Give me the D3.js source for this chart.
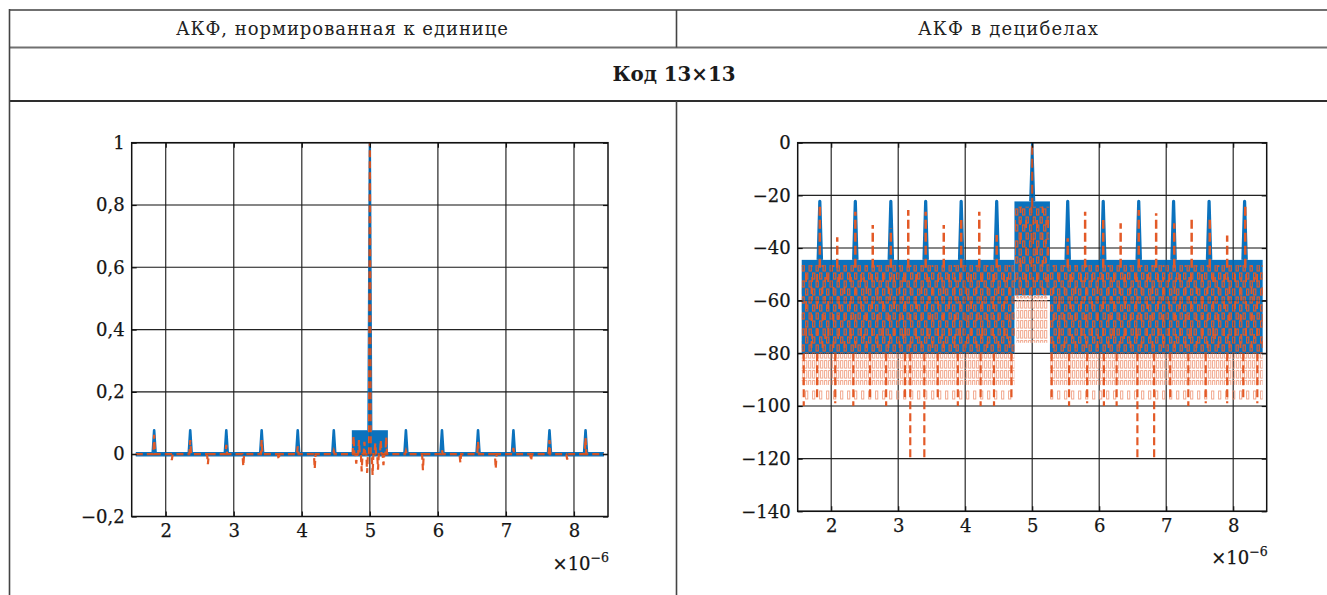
<!DOCTYPE html>
<html>
<head>
<meta charset="utf-8">
<script src="https://cdn.jsdelivr.net/npm/d3@7"></script>
<style>
  html, body { margin: 0; padding: 0; background: #fff; }
  svg { display: block; font-family: "DejaVu Serif", serif; }
</style>
</head>
<body>
<svg id="fig" width="1327" height="595"></svg>
<script>
// ---------------- data ----------------
const headerTexts = ["АКФ, нормированная к единице", "АКФ в децибелах"];
const codeTitle = "Код 13×13";

const xTicks = [2, 3, 4, 5, 6, 7, 8];
const linTicks = [-0.2, 0, 0.2, 0.4, 0.6, 0.8, 1];
const dbTicks = [-140, -120, -100, -80, -60, -40, -20, 0];

// lag axis, ×1e-6 s
const lagSpan = [1.56, 8.44];
const innerBlock = [4.735, 5.265];
const mainLag = 5;
const outerLobeX = [1.83, 2.36, 2.89, 3.41, 3.94, 4.47, 5.53, 6.06, 6.59, 7.11, 7.64, 8.17];

// |ACF|, normalized
const linPeak = 1;
const linLobe = 0.077;

// real part: excursions at outer lobes and between them
const reX = [1.83, 2.09, 2.36, 2.62, 2.89, 3.14, 3.41, 3.66, 3.94, 4.19, 4.47,
             5.53, 5.78, 6.06, 6.33, 6.59, 6.85, 7.11, 7.37, 7.64, 7.90, 8.17];
const reV = [0.062, -0.019, 0.045, -0.032, 0.030, -0.038, 0.045, -0.017, 0.025, -0.046, 0.010,
             0.010, -0.051, 0.013, -0.027, 0.040, -0.046, 0.020, -0.021, 0.045, -0.017, 0.052];
// real part inside the inner block
const reInnerX = [4.76, 4.80, 4.84, 4.88, 4.92, 4.96, 5.04, 5.08, 5.12, 5.16, 5.20, 5.24];
const reInnerV = [0.058, -0.030, 0.045, -0.055, 0.040, -0.060, -0.067, 0.035, -0.050, 0.045, -0.035, 0.055];

// |ACF| in dB
const dbPeak = 0;
const dbLobe = -22.3;
const dbFloor = [-44.5, -80];
const dbInnerFloor = -58;

// real part in dB: upper ends of the lobes
const reDbTopX = [1.83, 2.09, 2.36, 2.62, 2.89, 3.15, 3.41, 3.68, 3.94, 4.21, 4.47,
                  5.53, 5.79, 6.06, 6.32, 6.59, 6.85, 7.12, 7.38, 7.65, 7.91, 8.18];
const reDbTopV = [-24.3, -35.9, -26.2, -31.3, -32.5, -25.6, -26.2, -31.3, -29.4, -26.2, -35.1,
                  -36.3, -26.2, -29.4, -30.6, -25.6, -26.8, -30.6, -29.1, -28.5, -35.2, -23.8];
// real part in dB: lower ends of the deepest nulls
const reDbDeepX = [1.59, 1.79, 2.06, 2.33, 2.58, 2.82, 3.10, 3.18, 3.39, 3.59, 3.89, 4.23, 4.43, 4.69,
                   5.29, 5.55, 5.82, 6.07, 6.26, 6.57, 6.82, 7.06, 7.33, 7.59, 7.91, 8.15, 8.36];
const reDbDeepV = [-100, -97, -99, -100, -98, -100, -98, -120.5, -120, -98, -100, -100, -100, -97,
                   -98, -100, -99, -100, -100, -121, -121, -97, -100, -99, -99, -97, -99];
const reDbFringe = [-80, -92];
const reDbFringeSparse = [-92, -99];
const reDbInnerFringe = [-58.5, -76];

// ---------------- drawing ----------------
const BLUE = "#0B72BD", ORANGE = "#E35A27", FRINGE = "#F0A084";
const svg = d3.select("#fig");
const defs = svg.append("defs");

function pattern(id, w, h, rects, color, sw, filled) {
  const p = defs.append("pattern").attr("id", id).attr("patternUnits", "userSpaceOnUse")
    .attr("width", w).attr("height", h);
  rects.forEach(r => {
    const e = p.append("rect").attr("x", r[0]).attr("y", r[1]).attr("width", r[2]).attr("height", r[3]);
    if (filled) e.attr("fill", color);
    else e.attr("fill", "none").attr("stroke", color).attr("stroke-width", sw);
  });
}
// dash textures of the real-part trace over dense regions
pattern("texA", 7, 16, [[0.6, 1, 2.2, 6], [4.1, 9, 2.2, 6]], ORANGE, 1.2, false);
pattern("texB", 11, 27, [[2.2, 4, 1.8, 8], [7.6, 17, 1.8, 7]], ORANGE, 0, true);
pattern("texE", 13, 19, [[5.3, 11, 1.6, 5]], ORANGE, 0, true);
pattern("texC", 4, 10, [[0.6, 0.6, 2.2, 7.5]], FRINGE, 0.9, false);
pattern("texD", 7, 15, [[0.6, 1, 2.2, 8]], FRINGE, 0.9, false);

// ---- table frame ----
const frame = svg.append("g");
frame.append("line").attr("x1", 9).attr("x2", 1327).attr("y1", 10).attr("y2", 10)
  .attr("stroke", "#707070").attr("stroke-width", 2);
frame.append("line").attr("x1", 9).attr("x2", 1327).attr("y1", 47.5).attr("y2", 47.5)
  .attr("stroke", "#707070").attr("stroke-width", 2);
frame.append("line").attr("x1", 9).attr("x2", 1327).attr("y1", 101).attr("y2", 101)
  .attr("stroke", "#2e2e2e").attr("stroke-width", 2);
frame.append("line").attr("x1", 9.5).attr("x2", 9.5).attr("y1", 9).attr("y2", 595)
  .attr("stroke", "#444").attr("stroke-width", 1.6);
frame.append("line").attr("x1", 676.5).attr("x2", 676.5).attr("y1", 10).attr("y2", 47.5)
  .attr("stroke", "#444").attr("stroke-width", 1.6);
frame.append("line").attr("x1", 676.5).attr("x2", 676.5).attr("y1", 101).attr("y2", 595)
  .attr("stroke", "#444").attr("stroke-width", 1.6);

frame.append("text").attr("x", 342).attr("y", 35).attr("text-anchor", "middle")
  .attr("font-size", 18).attr("fill", "#222").attr("textLength", 332).attr("lengthAdjust", "spacing")
  .text(headerTexts[0]);
frame.append("text").attr("x", 1008).attr("y", 35).attr("text-anchor", "middle")
  .attr("font-size", 18).attr("fill", "#222").attr("textLength", 180).attr("lengthAdjust", "spacing")
  .text(headerTexts[1]);
frame.append("text").attr("x", 674).attr("y", 81).attr("text-anchor", "middle")
  .attr("font-size", 20).attr("font-weight", "bold").attr("fill", "#1a1a1a")
  .attr("textLength", 123).attr("lengthAdjust", "spacingAndGlyphs")
  .text(codeTitle);

// ---- helpers ----
const fmtLin = d => d === 0 ? "0" : (d < 0 ? "\u2212" : "") + String(Math.abs(d)).replace(".", ",");
const fmtDb = d => d === 0 ? "0" : "\u2212" + Math.abs(d);

function lobePoints(xs, vs, base, hw) {
  const pts = [];
  xs.forEach((x, i) => {
    const v = Array.isArray(vs) ? vs[i] : vs;
    pts.push([x - hw, base], [x, v], [x + hw, base]);
  });
  return pts;
}

function setupAxes(g, x, y, yTickVals, id) {
  const [x0, x1] = x.range();
  const [y0, y1] = y.range(); // y0 bottom, y1 top
  defs.append("clipPath").attr("id", id).append("rect")
    .attr("x", x0).attr("y", y1).attr("width", x1 - x0).attr("height", y0 - y1);
  const grid = g.append("g").attr("stroke", "#2a2a2a").attr("stroke-width", 1.1);
  grid.selectAll(".gx").data(xTicks).join("line")
    .attr("x1", d => x(d)).attr("x2", d => x(d)).attr("y1", y1).attr("y2", y0);
  grid.selectAll(".gy").data(yTickVals).join("line")
    .attr("x1", x0).attr("x2", x1).attr("y1", d => y(d)).attr("y2", d => y(d));
  return { x0, x1, y0, y1 };
}

function finishAxes(g, x, y, yFmt, yTickVals, box) {
  const { x0, x1, y0, y1 } = box;
  const grid = g.append("g").attr("stroke", "#000").attr("stroke-opacity", 0.18).attr("stroke-width", 1);
  grid.selectAll(".gx").data(xTicks).join("line")
    .attr("x1", d => x(d)).attr("x2", d => x(d)).attr("y1", y1).attr("y2", y0);
  grid.selectAll(".gy").data(yTickVals).join("line")
    .attr("x1", x0).attr("x2", x1).attr("y1", d => y(d)).attr("y2", d => y(d));

  const ax = g.append("g").attr("transform", `translate(0,${y0})`)
    .call(d3.axisBottom(x).tickValues(xTicks).tickSizeInner(-5).tickSizeOuter(0).tickPadding(8)
      .tickFormat(d3.format("d")));
  const at = g.append("g").attr("transform", `translate(0,${y1})`)
    .call(d3.axisTop(x).tickValues(xTicks).tickSizeInner(-5).tickSizeOuter(0).tickFormat(""));
  const ay = g.append("g").attr("transform", `translate(${x0},0)`)
    .call(d3.axisLeft(y).tickValues(yTickVals).tickSizeInner(-5).tickSizeOuter(0).tickPadding(7)
      .tickFormat(yFmt));
  const ar = g.append("g").attr("transform", `translate(${x1},0)`)
    .call(d3.axisRight(y).tickValues(yTickVals).tickSizeInner(-5).tickSizeOuter(0).tickFormat(""));
  [ax, at, ay, ar].forEach(a => {
    a.select(".domain").remove();
    a.selectAll(".tick line").attr("stroke", "#111").attr("stroke-width", 1.2);
    a.selectAll("text").attr("font-family", "DejaVu Serif, serif").attr("font-size", 18)
      .attr("fill", "#151515").attr("stroke", "#151515").attr("stroke-width", 0.25);
  });
  g.append("rect").attr("x", x0).attr("y", y1).attr("width", x1 - x0).attr("height", y0 - y1)
    .attr("fill", "none").attr("stroke", "#111").attr("stroke-width", 1.5);

  const mult = g.append("text").attr("x", x1 + 1).attr("y", y0 + 53).attr("text-anchor", "end")
    .attr("font-size", 18).attr("fill", "#151515").attr("stroke", "#151515").attr("stroke-width", 0.25);
  mult.append("tspan").text("×10");
  mult.append("tspan").attr("font-size", 12.5).attr("dy", -8).text("\u22126");
}

const line = d3.line();

// ================= left: normalized ACF =================
{
  const x = d3.scaleLinear().domain([1.5, 8.5]).range([131.7, 608]);
  const y = d3.scaleLinear().domain([-0.2, 1]).range([516.5, 142.7]);
  const g = svg.append("g");
  const box = setupAxes(g, x, y, linTicks, "clipL");
  const data = g.append("g").attr("clip-path", "url(#clipL)");
  const xy = p => [x(p[0]), y(p[1])];

  // |ACF|: baseline with outer lobes
  const bluePts = [[lagSpan[0], 0], ...lobePoints(outerLobeX, linLobe, 0, 0.022), [lagSpan[1], 0]];
  data.append("path").attr("d", line(bluePts.map(xy)))
    .attr("fill", BLUE).attr("stroke", BLUE).attr("stroke-width", 2.6)
    .attr("stroke-linejoin", "round");
  data.append("line").attr("x1", x(lagSpan[0])).attr("x2", x(lagSpan[1]))
    .attr("y1", y(0)).attr("y2", y(0)).attr("stroke", BLUE).attr("stroke-width", 4.5);
  // inner block
  data.append("rect").attr("x", x(innerBlock[0])).attr("y", y(linLobe))
    .attr("width", x(innerBlock[1]) - x(innerBlock[0])).attr("height", y(0) - y(linLobe))
    .attr("fill", BLUE);
  // main peak
  data.append("path")
    .attr("d", line([[mainLag - 0.02, linLobe], [mainLag, linPeak], [mainLag + 0.02, linLobe]].map(xy)))
    .attr("fill", BLUE).attr("stroke", BLUE).attr("stroke-width", 2.4);

  // real part, dashed
  const allX = reX.concat(reInnerX, [mainLag]);
  const allV = reV.concat(reInnerV, [linPeak]);
  const order = d3.range(allX.length).sort((a, b) => allX[a] - allX[b]);
  const rePts = [[lagSpan[0], 0], ...lobePoints(order.map(i => allX[i]), order.map(i => allV[i]), 0, 0.012),
                 [lagSpan[1], 0]];
  data.append("path").attr("d", line(rePts.map(xy)))
    .attr("fill", "none").attr("stroke", ORANGE).attr("stroke-width", 2.2)
    .attr("stroke-dasharray", "7,4").attr("stroke-linejoin", "miter");

  finishAxes(g, x, y, fmtLin, linTicks, box);
}

// ================= right: ACF in dB =================
{
  const x = d3.scaleLinear().domain([1.5, 8.5]).range([797.7, 1266.7]);
  const y = d3.scaleLinear().domain([-140, 0]).range([511.3, 142.7]);
  const g = svg.append("g");
  const box = setupAxes(g, x, y, dbTicks, "clipR");
  const data = g.append("g").attr("clip-path", "url(#clipR)");
  const xy = p => [x(p[0]), y(p[1])];
  const sides = [[lagSpan[0], innerBlock[0]], [innerBlock[1], lagSpan[1]]];
  const band = (s, top, bottom, fill) => data.append("rect")
    .attr("x", x(s[0])).attr("y", y(top)).attr("width", x(s[1]) - x(s[0]))
    .attr("height", y(bottom) - y(top)).attr("fill", fill);

  // low-level fringe of the real part below the band
  sides.forEach(s => {
    band(s, reDbFringe[0], reDbFringe[1], "url(#texC)");
    band(s, reDbFringeSparse[0], reDbFringeSparse[1], "url(#texD)");
  });
  // deep nulls of the real part
  data.selectAll(".deep").data(reDbDeepX).join("line")
    .attr("x1", d => x(d)).attr("x2", d => x(d))
    .attr("y1", y(dbFloor[1])).attr("y2", (d, i) => y(reDbDeepV[i]))
    .attr("stroke", ORANGE).attr("stroke-width", 2.2).attr("stroke-dasharray", "8,4");

  // |ACF| band of residual sidelobes
  sides.forEach(s => band(s, dbFloor[0], dbFloor[1], BLUE));
  // outer lobes
  outerLobeX.forEach(lx => {
    data.append("path")
      .attr("d", line([[lx - 0.025, dbFloor[0]], [lx, dbLobe], [lx + 0.025, dbFloor[0]]].map(xy)))
      .attr("fill", BLUE).attr("stroke", BLUE).attr("stroke-width", 3.2).attr("stroke-linejoin", "round");
  });
  // inner block
  band(innerBlock, dbLobe, dbInnerFloor, BLUE);
  // main peak
  data.append("path")
    .attr("d", line([[mainLag - 0.028, dbLobe], [mainLag, dbPeak], [mainLag + 0.028, dbLobe]].map(xy)))
    .attr("fill", BLUE).attr("stroke", BLUE).attr("stroke-width", 2.4);

  // real part texture over the band and inner block
  sides.forEach(s => ["texA", "texB", "texE"].forEach(t => band(s, dbFloor[0] - 2, dbFloor[1], `url(#${t})`)));
  ["texA", "texB", "texE"].forEach(t => band([innerBlock[0] + 0.01, innerBlock[1] - 0.01], dbLobe - 2, dbInnerFloor, `url(#${t})`));
  // real part below the inner block
  band([innerBlock[0] + 0.03, innerBlock[1] - 0.03], reDbInnerFringe[0], reDbInnerFringe[1], "url(#texC)");
  data.append("line").attr("x1", x(innerBlock[0] + 0.03)).attr("x2", x(innerBlock[1] - 0.03))
    .attr("y1", y(reDbInnerFringe[0])).attr("y2", y(reDbInnerFringe[0]))
    .attr("stroke", FRINGE).attr("stroke-width", 1.5).attr("stroke-dasharray", "2,1.5");

  // real part lobes reaching above the band
  data.selectAll(".top").data(reDbTopX).join("line")
    .attr("x1", d => x(d)).attr("x2", d => x(d))
    .attr("y1", y(dbFloor[0] - 3)).attr("y2", (d, i) => y(reDbTopV[i]))
    .attr("stroke", ORANGE).attr("stroke-width", 2.5).attr("stroke-dasharray", "9,4");
  // real part main peak
  data.append("line").attr("x1", x(mainLag)).attr("x2", x(mainLag))
    .attr("y1", y(dbLobe - 2)).attr("y2", y(dbPeak))
    .attr("stroke", ORANGE).attr("stroke-width", 2).attr("stroke-dasharray", "9,4");

  finishAxes(g, x, y, fmtDb, dbTicks, box);
}
</script>
</body>
</html>
